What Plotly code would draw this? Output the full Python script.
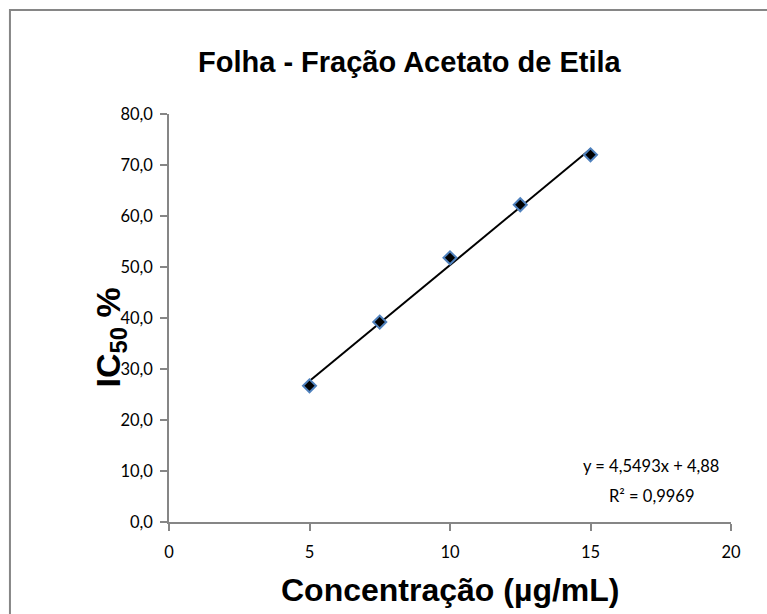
import plotly.graph_objects as go

# Concentração (µg/mL) e IC50 (%) medidos
concentracao = [5, 7.5, 10, 12.5, 15]
ic50 = [26.7, 39.2, 51.8, 62.2, 72.0]

# Linha de tendência linear
inclinacao = 4.5493
intercepto = 4.88
r2 = 0.9969

x_tick_vals = [0, 5, 10, 15, 20]
y_tick_vals = [0, 10, 20, 30, 40, 50, 60, 70, 80]

titulo = "Folha - Fração Acetato de Etila"
titulo_x = "Concentração (µg/mL)"
titulo_y = "IC<sub>50</sub> %"

def fmt(v, casas):
    return f"{v:.{casas}f}".replace(".", ",")

eq_texto = f"y = {fmt(inclinacao, 4)}x + {fmt(intercepto, 2)}"
r2_texto = f"R² = {fmt(r2, 4)}"

linha_x = [min(concentracao), max(concentracao)]
linha_y = [inclinacao * v + intercepto for v in linha_x]

axis_gray = "#868686"
tick_font = dict(family="Lato, Calibri, sans-serif", size=16.5, color="black")
eq_font = dict(family="Lato, Calibri, sans-serif", size=16.5, color="black")
bold_font = "Liberation Sans, Arial, sans-serif"

fig = go.Figure()

fig.add_trace(go.Scatter(
    x=linha_x, y=linha_y, mode="lines",
    line=dict(color="black", width=2),
    hoverinfo="skip", showlegend=False,
))

fig.add_trace(go.Scatter(
    x=concentracao, y=ic50, mode="markers",
    marker=dict(symbol="diamond", size=10, color="black",
                line=dict(color="#4F81BD", width=2)),
    showlegend=False,
))

fig.update_layout(
    width=767, height=614,
    margin=dict(l=169, r=36, t=114, b=92),
    paper_bgcolor="white", plot_bgcolor="white",
    separators=",.",
    showlegend=False,
    xaxis=dict(
        range=[0, 20], tickvals=x_tick_vals, tickformat="d",
        showgrid=False, zeroline=False,
        showline=True, linecolor=axis_gray, linewidth=1.5,
        ticks="outside", ticklen=7, tickcolor=axis_gray, tickwidth=1.5,
        tickfont=tick_font, ticklabelstandoff=7,
    ),
    yaxis=dict(
        range=[0, 80], tickvals=y_tick_vals, tickformat=".1f",
        showgrid=False, zeroline=False,
        showline=True, linecolor=axis_gray, linewidth=1.5,
        ticks="outside", ticklen=7, tickcolor=axis_gray, tickwidth=1.5,
        tickfont=tick_font, ticklabelstandoff=4,
    ),
    shapes=[dict(
        type="rect", xref="paper", yref="paper",
        x0=-0.283, y0=-0.4, x1=1.3, y1=1.255,
        line=dict(color=axis_gray, width=2), fillcolor="rgba(0,0,0,0)",
        layer="below",
    )],
    annotations=[
        dict(text=f"<b>{titulo}</b>", xref="paper", yref="paper",
             x=0.429, y=1.127, xanchor="center", yanchor="middle",
             showarrow=False,
             font=dict(family=bold_font, size=29, color="black")),
        dict(text=f"<b>{titulo_x}</b>", xref="paper", yref="paper",
             x=0.5, y=-0.167, xanchor="center", yanchor="middle",
             showarrow=False,
             font=dict(family=bold_font, size=32, color="black")),
        dict(text=f"<b>{titulo_y}</b>", xref="paper", yref="paper",
             x=-0.104, y=0.451, xanchor="center", yanchor="middle",
             showarrow=False, textangle=-90,
             font=dict(family=bold_font, size=34, color="black")),
        dict(text=eq_texto, xref="paper", yref="paper",
             x=0.858, y=0.137, xanchor="center", yanchor="middle",
             showarrow=False, font=eq_font),
        dict(text=r2_texto, xref="paper", yref="paper",
             x=0.858, y=0.064, xanchor="center", yanchor="middle",
             showarrow=False, font=eq_font),
    ],
)

fig.write_html("out.html")
